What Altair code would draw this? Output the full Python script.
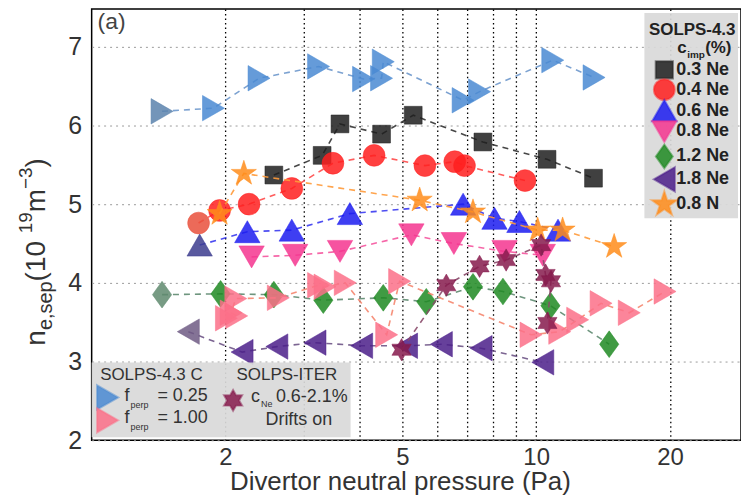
import altair as alt
import pandas as pd

# ---------------- data ----------------
blue_x = [1.44, 1.88, 2.38, 3.24, 4.09, 4.49, 4.53, 6.85, 7.46, 10.9, 13.5]
blue_y = [6.18, 6.22, 6.60, 6.75, 6.59, 6.60, 6.81, 6.32, 6.43, 6.83, 6.61]

black_x = [2.57, 3.30, 3.62, 4.49, 5.29, 7.59, 10.58, 13.46]
black_y = [5.37, 5.62, 6.02, 5.89, 6.13, 5.79, 5.57, 5.33]

red_x = [1.74, 1.94, 2.26, 2.82, 3.49, 4.32, 5.62, 6.56, 6.90, 9.44]
red_y = [4.76, 4.92, 5.00, 5.20, 5.52, 5.62, 5.49, 5.54, 5.49, 5.30]

blueup_x = [1.75, 2.24, 2.82, 3.81, 6.85, 8.06, 9.17, 11.2]
blueup_y = [4.48, 4.65, 4.67, 4.88, 5.00, 4.82, 4.78, 4.67]

pink_x = [2.29, 2.87, 3.62, 5.24, 6.53, 8.49, 10.35]
pink_y = [4.33, 4.35, 4.40, 4.61, 4.50, 4.40, 4.35]

green_x = [1.44, 1.95, 2.57, 3.32, 4.53, 5.66, 7.21, 8.42, 10.77, 14.6]
green_y = [3.85, 3.86, 3.85, 3.78, 3.81, 3.76, 3.95, 3.89, 3.71, 3.22]

purple_x = [1.65, 2.18, 2.61, 3.18, 4.05, 5.11, 6.12, 7.52, 10.35]
purple_y = [3.38, 3.12, 3.19, 3.24, 3.20, 3.20, 3.22, 3.17, 2.99]

orange_x = [1.94, 2.20, 5.47, 7.21, 10.08, 11.47, 14.98]
orange_y = [4.88, 5.39, 5.05, 4.90, 4.67, 4.67, 4.46]

salmon_x = [2.01, 2.12, 2.06, 2.11, 2.63, 3.24, 3.35, 3.72, 4.61, 4.93, 9.74, 11.3, 12.4, 14.0, 16.2, 19.5]
salmon_y = [3.55, 3.58, 3.62, 3.80, 3.81, 3.97, 3.95, 4.00, 3.34, 4.02, 3.34, 3.38, 3.53, 3.74, 3.62, 3.89]

maroon_x = [4.98, 6.28, 7.46, 8.56, 10.26, 10.5, 10.8, 10.6]
maroon_y = [3.15, 3.97, 4.21, 4.29, 4.48, 4.10, 4.02, 3.49]

legend_labels = ["0.3 Ne", "0.4 Ne", "0.6 Ne", "0.8 Ne", "1.2 Ne", "1.8 Ne", "0.8 N"]
x_tick_values = [2, 3, 4, 5, 6, 7, 8, 9, 10, 20]
x_tick_labels = [2, 5, 10, 20]
y_tick_values = [2, 3, 4, 5, 6, 7]
x_title = "Divertor neutral pressure (Pa)"

# ---------------- layout ----------------
W, H = 652, 433
FONT = "Liberation Sans"
HEX = "M0,-1L0.289,-0.5L0.866,-0.5L0.577,0L0.866,0.5L0.289,0.5L0,1L-0.289,0.5L-0.866,0.5L-0.577,0L-0.866,-0.5L-0.289,-0.5Z"
DIAM = "M0,-1L0.72,0L0,1L-0.72,0Z"
STAR = ("M0,-1L0.225,-0.309L0.951,-0.309L0.363,0.118L0.588,0.809L0,0.382L-0.588,0.809"
        "L-0.363,0.118L-0.951,-0.309L-0.225,-0.309Z")

xs = alt.Scale(type="log", domain=[1.0, 28.9], nice=False)
ys = alt.Scale(domain=[2.0, 7.48], nice=False, zero=False)

lab_expr = "indexof([" + ",".join(str(v) for v in x_tick_labels) + "], datum.value) >= 0 ? datum.label : ''"
x_axis = alt.Axis(values=x_tick_values, format="d", labelExpr=lab_expr, grid=True,
                  gridColor="black", gridDash=[1.5, 3], gridWidth=1.3, ticks=False,
                  domain=False, labelFontSize=24, labelColor="#333", labelFont=FONT,
                  labelPadding=5, labelFlush=False, orient="bottom", title=None)
y_axis = alt.Axis(values=y_tick_values, format="d", grid=True, gridColor="#9a9a9a",
                  gridDash=[2, 4], gridWidth=1, ticks=False, domain=False, orient="left",
                  labelFontSize=25, labelColor="#333", labelFont=FONT, labelPadding=10,
                  title=None)

X = alt.X("x:Q", scale=xs, axis=x_axis)
Y = alt.Y("y:Q", scale=ys, axis=y_axis)

one = pd.DataFrame({"a": [0]})


def series(xv, yv, shape, size, color, line_color, first_color=None, dash=(6, 5)):
    df = pd.DataFrame({"x": xv, "y": yv, "i": list(range(len(xv)))})
    base = alt.Chart(df)
    out = [base.mark_line(strokeDash=list(dash), strokeWidth=1.6, color=line_color, opacity=0.9)
           .encode(x=X, y=Y, order="i:Q")]
    pts = base.mark_point(shape=shape, size=size, filled=True, color=color, fillOpacity=0.85,
                          stroke=color, strokeOpacity=0.5, strokeWidth=1)
    if first_color:
        out.append(pts.transform_filter("datum.i > 0").encode(x=X, y=Y))
        out.append(base.mark_point(shape=shape, size=size, filled=True, color=first_color,
                                   fillOpacity=0.85, stroke=first_color, strokeOpacity=0.5,
                                   strokeWidth=1)
                   .transform_filter("datum.i == 0").encode(x=X, y=Y))
    else:
        out.append(pts.encode(x=X, y=Y))
    return out


layers = []
layers += series(blue_x, blue_y, "triangle-right", 650, "#4a8ad2", "#6e98cc", "#5b82ad")
layers += series(black_x, black_y, "square", 320, "#1e1e1e", "#333333")
layers += series(red_x, red_y, "circle", 480, "#ff1f1f", "#ff4a4a", "#e9503c")
layers += series(blueup_x, blueup_y, "triangle-up", 650, "#1c1cf0", "#3a3af0", "#3c3c8e")
layers += series(pink_x, pink_y, "triangle-down", 650, "#f5358f", "#f5559f")
layers += series(green_x, green_y, DIAM, 720, "#1f8a22", "#5e8a70", "#5f8a6e")
layers += series(purple_x, purple_y, "triangle-left", 650, "#4b1e8a", "#6e5486", "#6e5a84")
layers += series(orange_x, orange_y, STAR, 700, "#ff8c1a", "#ff9a3a")
layers += series(salmon_x, salmon_y, "triangle-right", 650, "#fb7088", "#f5866f")
layers += series(maroon_x, maroon_y, HEX, 500, "#861a4c", "#8a4a6a")


def txt(s, x, y, size=16, bold=False, color="#222", align="left", baseline="middle", angle=None):
    kw = dict(text=s, fontSize=size, font=FONT, color=color, align=align, baseline=baseline,
              fontWeight="bold" if bold else "normal")
    if angle is not None:
        kw["angle"] = angle
    return alt.Chart(one).mark_text(**kw).encode(x=alt.value(x), y=alt.value(y))


def sym(shape, x, y, size, color):
    return alt.Chart(one).mark_point(shape=shape, size=size, filled=True, color=color,
                                     fillOpacity=0.85, stroke=color, strokeOpacity=0.5) \
        .encode(x=alt.value(x), y=alt.value(y))


def box(x, x2, y, y2):
    return alt.Chart(one).mark_rect(color="#d9d9d9", opacity=0.92) \
        .encode(x=alt.value(x), x2=alt.value(x2), y=alt.value(y), y2=alt.value(y2))


# right legend
ann = [box(555, 649, 4, 210)]
ann.append(txt("SOLPS-4.3", 603, 21, 17, True, align="center"))
ann.append(txt("c", 588, 39, 17, True))
ann.append(txt("imp", 598, 46, 10, True))
ann.append(txt("(%)", 616, 39, 17, True))
leg_shapes = ["square", "circle", "triangle-up", "triangle-down", DIAM, "triangle-left", STAR]
leg_colors = ["#1e1e1e", "#ff1f1f", "#1c1cf0", "#f5358f", "#1f8a22", "#4b1e8a", "#ff8c1a"]
leg_sizes = [300, 440, 600, 600, 560, 600, 680]
leg_y = [61, 81, 102, 123, 148, 171, 196]
for lab, shp, col, sz, yy in zip(legend_labels, leg_shapes, leg_colors, leg_sizes, leg_y):
    ann.append(sym(shp, 575, yy, sz, col))
    ann.append(txt(lab, 587, yy, 18, True))

# bottom-left legend
ann.append(box(0, 260, 355, 430))
ann.append(txt("SOLPS-4.3 C", 60, 368, 17, color="#333", align="center"))
ann.append(sym("triangle-right", 16, 390, 600, "#4a8ad2"))
ann.append(txt("f", 33, 389, 18, color="#333"))
ann.append(txt("perp", 39, 398, 9, color="#333"))
ann.append(txt("= 0.25", 66, 389, 18, color="#333"))
ann.append(sym("triangle-right", 16, 413, 600, "#fb7088"))
ann.append(txt("f", 33, 411, 18, color="#333"))
ann.append(txt("perp", 39, 420, 9, color="#333"))
ann.append(txt("= 1.00", 66, 411, 18, color="#333"))
ann.append(txt("SOLPS-ITER", 196, 368, 17, color="#333", align="center"))
ann.append(sym(HEX, 142, 393, 440, "#861a4c"))
ann.append(txt("c", 160, 390, 18, color="#333"))
ann.append(txt("Ne", 170, 397, 9, color="#333"))
ann.append(txt("0.6-2.1%", 185, 390, 18, color="#333"))
ann.append(txt("Drifts on", 208, 413, 18, color="#333", align="center"))

# panel label
ann.append(txt("(a)", 20, 13, 23, color="#444", align="center"))

# x-axis title
ann.append(txt(x_title, 310, 483, 26, color="#333", align="center", baseline="alphabetic"))

# y-axis title built from pieces (rotated)
ytitle = [("n", 28, 0), ("e,sep", 20, 7), (" (10", 28, 0), ("19", 19, -13), ("m", 28, 0),
          ("\u22123", 19, -13), (")", 28, 0)]
adv = {"n": .556, "e": .556, ",": .278, "s": .5, "p": .556, " ": .278, "(": .333, "1": .556,
       "0": .556, "9": .556, "m": .833, "\u2212": .584, "3": .556, ")": .333}
ypos = 338
for s, fs, dx in ytitle:
    ann.append(txt(s, -47 + dx, ypos, fs, color="#333", baseline="alphabetic", angle=270))
    ypos -= sum(adv[c] for c in s) * fs

chart = alt.layer(*layers, *ann).properties(
    width=W, height=H,
    autosize=alt.AutoSizeParams(type="none"),
    padding={"left": 84, "top": 0, "right": 0, "bottom": 60},
).configure_view(stroke="black", strokeWidth=1.5)

chart.save("out.html", embed_options={"renderer": "svg", "actions": False})
